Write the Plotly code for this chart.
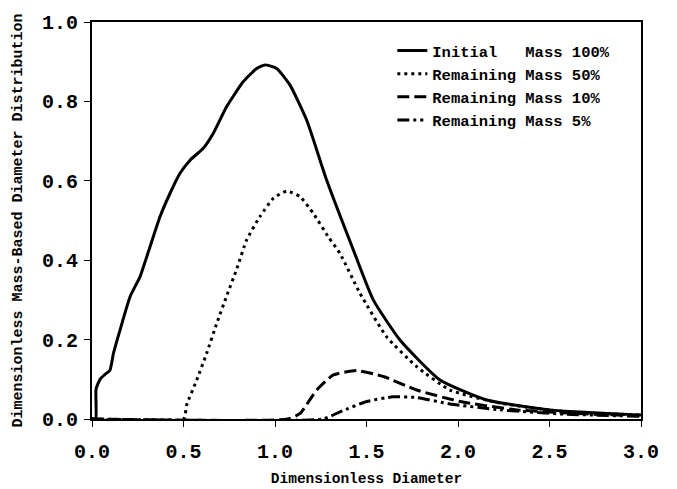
import plotly.graph_objects as go

# Initial mass 100%
initial_x = [0.0, 0.02, 0.022, 0.044, 0.07, 0.098, 0.117, 0.153, 0.208, 0.262, 0.317, 0.372,
             0.426, 0.481, 0.536, 0.608, 0.663, 0.736, 0.827, 0.900, 0.945, 1.009, 1.082,
             1.173, 1.282, 1.428, 1.537, 1.683, 1.902, 2.157, 2.503, 3.0]
initial_y = [0.0, 0.0, 0.075, 0.100, 0.112, 0.123, 0.165, 0.224, 0.308, 0.358, 0.434, 0.510,
             0.568, 0.619, 0.652, 0.682, 0.720, 0.787, 0.850, 0.883, 0.892, 0.883, 0.841,
             0.753, 0.602, 0.426, 0.300, 0.199, 0.098, 0.048, 0.023, 0.010]

# Remaining mass 50%
half_x = [0.0, 0.50, 0.517, 0.572, 0.627, 0.681, 0.736, 0.791, 0.845, 0.918, 0.991, 1.064,
          1.137, 1.209, 1.291, 1.355, 1.464, 1.610, 1.774, 1.956, 2.230, 2.594, 3.0]
half_y = [0.0, 0.0, 0.035, 0.098, 0.166, 0.240, 0.310, 0.378, 0.451, 0.510, 0.556, 0.574,
          0.560, 0.518, 0.459, 0.417, 0.317, 0.207, 0.132, 0.073, 0.040, 0.018, 0.010]

# Remaining mass 10%
ten_x = [0.0, 1.07, 1.137, 1.228, 1.319, 1.446, 1.592, 1.774, 2.011, 2.321, 2.685, 3.0]
ten_y = [0.0, 0.0, 0.014, 0.073, 0.111, 0.122, 0.107, 0.073, 0.044, 0.023, 0.013, 0.008]

# Remaining mass 5%
five_x = [0.0, 1.26, 1.355, 1.501, 1.646, 1.774, 1.956, 2.230, 2.594, 3.0]
five_y = [0.0, 0.0, 0.018, 0.044, 0.056, 0.054, 0.038, 0.023, 0.012, 0.007]

names = ["Initial\u00a0\u00a0\u00a0Mass 100%", "Remaining Mass 50%",
         "Remaining Mass 10%", "Remaining Mass 5%"]

x_ticks = [0, 0.5, 1.0, 1.5, 2.0, 2.5, 3.0]
x_labels = ["0.0", "0.5", "1.0", "1.5", "2.0", "2.5", "3.0"]
y_ticks = [0, 0.2, 0.4, 0.6, 0.8, 1.0]
y_labels = ["0.0", "0.2", "0.4", "0.6", "0.8", "1.0"]

FONT = "Liberation Mono, Courier New, monospace"

fig = go.Figure()
series = [
    (initial_x, initial_y, "solid"),
    (half_x, half_y, "3px,4px"),
    (ten_x, ten_y, "12px,5px"),
    (five_x, five_y, "12px,4px,3px,4px,3px,4px"),
]
for (xs, ys, dash), nm in zip(series, names):
    fig.add_trace(go.Scatter(x=xs, y=ys, mode="lines", name=nm,
                             line=dict(color="black", width=3, dash=dash,
                                       shape="spline", smoothing=0.5)))

axis_common = dict(showline=True, linecolor="black", linewidth=2, mirror=True,
                   ticks="outside", ticklen=6, tickcolor="black", tickwidth=1,
                   showgrid=False, zeroline=False, automargin=False,
                   tickfont=dict(family=FONT, size=20, color="black", weight="bold"))

fig.update_layout(
    width=677, height=489,
    margin=dict(l=92, r=36, t=22, b=70),
    plot_bgcolor="white", paper_bgcolor="white",
    font=dict(family=FONT, color="black"),
    showlegend=True,
    legend=dict(x=0.547, y=0.970, xanchor="left", yanchor="top",
                bgcolor="rgba(0,0,0,0)", borderwidth=0,
                font=dict(family=FONT, size=15.5, color="black", weight="bold"),
                tracegroupgap=0),
    xaxis=dict(range=[0, 3.0], tickvals=x_ticks, ticktext=x_labels,
               ticklabelstandoff=7,
               title=dict(text="Dimensionless Diameter", standoff=10,
                          font=dict(family=FONT, size=14.5, color="black", weight="bold")),
               **axis_common),
    yaxis=dict(range=[0, 1.0], tickvals=y_ticks, ticktext=y_labels,
               ticklabelstandoff=2,
               title=dict(text="Dimensionless Mass-Based Diameter Distribution", standoff=16,
                          font=dict(family=FONT, size=15, color="black", weight="bold")),
               **axis_common),
)

fig.write_html("out.html", config={"displayModeBar": False},
               post_script="document.body.style.margin='0';")
